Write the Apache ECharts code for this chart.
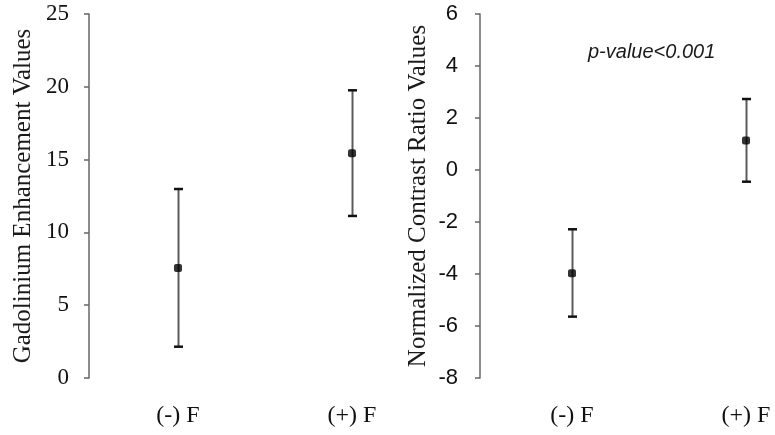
<!DOCTYPE html>
<html>
<head>
<meta charset="utf-8">
<script src="https://cdn.jsdelivr.net/npm/echarts@6/dist/echarts.min.js"></script>
<style>
  html, body { margin: 0; padding: 0; background: #fff; }
  #main { width: 775px; height: 435px; }
</style>
</head>
<body>
<div id="main"></div>
<script>
// groups on the x axis
var categories = ['(-) F', '(+) F'];

// left panel: gadolinium enhancement (mean, lower and upper whisker)
var gadMean = [7.55, 15.43];
var gadLow = [2.15, 11.13];
var gadHigh = [12.98, 19.76];

// right panel: normalized contrast ratio
var ncrMean = [-3.97, 1.13];
var ncrLow = [-5.64, -0.45];
var ncrHigh = [-2.28, 2.73];

// y axis ranges / tick steps
var gadTicks = [0, 25, 5];
var ncrTicks = [-8, 6, 2];

var pLabel = 'p-value<0.001';

function errorRows(low, high) {
    return categories.map(function (c, i) { return [i, low[i], high[i]]; });
}

function renderBar(params, api) {
    var lo = api.coord([api.value(0), api.value(1)]);
    var hi = api.coord([api.value(0), api.value(2)]);
    var x = Math.round(lo[0]) + 0.5;
    var half = 4.5;
    return {
        type: 'group',
        children: [
            { type: 'line', shape: { x1: x, y1: hi[1], x2: x, y2: lo[1] },
              style: { stroke: '#5a5a5a', lineWidth: 2 } },
            { type: 'line', shape: { x1: x - half, y1: hi[1], x2: x + half, y2: hi[1] },
              style: { stroke: '#111', lineWidth: 2.5 } },
            { type: 'line', shape: { x1: x - half, y1: lo[1], x2: x + half, y2: lo[1] },
              style: { stroke: '#111', lineWidth: 2.5 } }
        ]
    };
}

var serif = 'Liberation Serif';
var sans = 'Liberation Sans';

function yAxisOf(idx, ticks, name, font, size, margin, gap, offset) {
    return {
        type: 'value',
        gridIndex: idx,
        min: ticks[0],
        max: ticks[1],
        interval: ticks[2],
        offset: offset,
        name: name,
        nameLocation: 'middle',
        nameRotate: 90,
        nameGap: gap,
        nameTextStyle: { fontFamily: serif, fontSize: 25, color: '#1a1a1a' },
        axisLine: { show: true, lineStyle: { color: '#666', width: 1.5 } },
        axisTick: { show: true, length: 5, lineStyle: { color: '#666', width: 1.5 } },
        splitLine: { show: false },
        axisLabel: { fontFamily: font, fontSize: size, color: '#111', margin: margin }
    };
}

function xAxisOf(idx) {
    return {
        type: 'category',
        gridIndex: idx,
        data: categories,
        boundaryGap: false,
        axisLine: { show: false },
        axisTick: { show: false },
        axisLabel: { fontFamily: serif, fontSize: 24, color: '#111', margin: 26 }
    };
}

var option = {
    backgroundColor: '#fff',
    animation: false,
    grid: [
        { left: 178, top: 14, width: 174, height: 364 },
        { left: 572, top: 14, width: 174, height: 364 }
    ],
    xAxis: [xAxisOf(0), xAxisOf(1)],
    yAxis: [
        yAxisOf(0, gadTicks, 'Gadolinium Enhancement Values', serif, 23, 20, 53, 89),
        yAxisOf(1, ncrTicks, 'Normalized Contrast Ratio Values', sans, 22, 22, 49, 92)
    ],
    graphic: [
        { type: 'text', left: 588, top: 42,
          style: { text: pLabel, fontFamily: sans, fontStyle: 'italic', fontSize: 20, fill: '#1a1a1a' } }
    ],
    series: [
        { type: 'custom', xAxisIndex: 0, yAxisIndex: 0, renderItem: renderBar,
          data: errorRows(gadLow, gadHigh), z: 2 },
        { type: 'scatter', xAxisIndex: 0, yAxisIndex: 0, symbol: 'roundRect', symbolSize: 8,
          itemStyle: { color: '#000' }, data: gadMean, z: 3 },
        { type: 'custom', xAxisIndex: 1, yAxisIndex: 1, renderItem: renderBar,
          data: errorRows(ncrLow, ncrHigh), z: 2 },
        { type: 'scatter', xAxisIndex: 1, yAxisIndex: 1, symbol: 'roundRect', symbolSize: 8,
          itemStyle: { color: '#000' }, data: ncrMean, z: 3 }
    ]
};

var myChart = echarts.init(document.getElementById('main'));
myChart.setOption(option);
</script>
</body>
</html>
